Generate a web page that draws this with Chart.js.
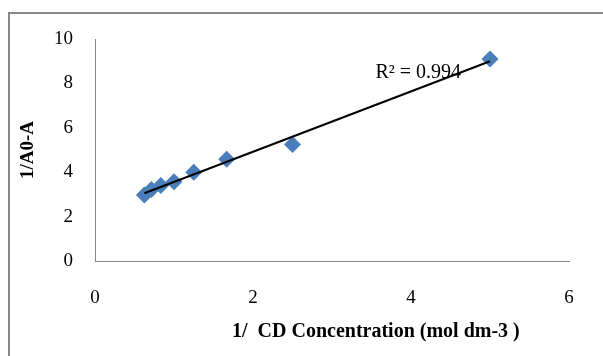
<!DOCTYPE html>
<html>
<head>
<meta charset="utf-8">
<script src="https://cdn.jsdelivr.net/npm/chart.js@4.4.0/dist/chart.umd.min.js"></script>
<style>
    html, body { margin: 0; padding: 0; background: #fff; overflow: hidden; }
    #wrap { position: relative; width: 603px; height: 356px; }
    #frame {
        position: absolute; left: 8px; top: 12px; width: 700px; height: 400px;
        border: 2px solid #878787; box-sizing: border-box;
    }
    canvas { position: absolute; left: 0; top: 0; }
</style>
</head>
<body>
<div id="wrap">
    <div id="frame"></div>
    <canvas id="chart" width="603" height="356"></canvas>
</div>
<script>
const xValues = [0.625, 0.714, 0.833, 1.0, 1.25, 1.667, 2.5, 5.0];
const yValues = [2.97, 3.22, 3.4, 3.57, 4.0, 4.58, 5.25, 9.1];
const xTicks = [0, 2, 4, 6];
const yTicks = [0, 2, 4, 6, 8, 10];
const X_TITLE = "1/  CD Concentration (mol dm-3 )";
const Y_TITLE = "1/A0-A";
const R2_LABEL = "R\u00b2 = 0.994";

// least squares trend line through the points
function linearFit(xs, ys) {
    const n = xs.length;
    const mx = xs.reduce((a, b) => a + b, 0) / n;
    const my = ys.reduce((a, b) => a + b, 0) / n;
    let sxy = 0, sxx = 0;
    xs.forEach((x, i) => {
        sxy += (x - mx) * (ys[i] - my);
        sxx += (x - mx) * (x - mx);
    });
    const slope = sxy / sxx;
    return { slope, intercept: my - slope * mx };
}

const fit = linearFit(xValues, yValues);
const xMin = Math.min(...xValues);
const xMax = Math.max(...xValues);
const trendPoints = [xMin, xMax].map((x) => ({ x, y: fit.intercept + fit.slope * x }));

const FONT = "'Liberation Serif', 'Times New Roman', serif";

// R² label and the two axis titles (Excel had the x title moved off-centre)
const labels = {
    id: "labels",
    afterDatasetsDraw(chart) {
        const { ctx, scales } = chart;
        ctx.save();
        ctx.fillStyle = "#000";
        ctx.textBaseline = "middle";

        ctx.font = `20px ${FONT}`;
        ctx.textAlign = "left";
        ctx.fillText(R2_LABEL, scales.x.getPixelForValue(3.55), scales.y.getPixelForValue(8.5));

        ctx.font = `bold 20px ${FONT}`;
        ctx.fillText(X_TITLE, 232, 332);

        ctx.translate(28, (chart.chartArea.top + chart.chartArea.bottom) / 2);
        ctx.rotate(-Math.PI / 2);
        ctx.textAlign = "center";
        ctx.font = `bold 19px ${FONT}`;
        ctx.fillText(Y_TITLE, 0, 0);
        ctx.restore();
    },
};

new Chart(document.getElementById("chart"), {
    type: "scatter",
    data: {
        datasets: [
            {
                label: "data",
                data: xValues.map((x, i) => ({ x, y: yValues[i] })),
                pointStyle: "rectRot",
                pointRadius: 8.5,
                pointHoverRadius: 8.5,
                backgroundColor: "#4a7ebb",
                borderWidth: 0,
                order: 2,
            },
            {
                label: "trend",
                type: "line",
                data: trendPoints,
                borderColor: "#000",
                borderWidth: 2,
                pointRadius: 0,
                fill: false,
                order: 1,
            },
        ],
    },
    options: {
        responsive: false,
        animation: false,
        events: [],
        layout: { padding: { left: 0, top: 39, right: 34, bottom: 0 } },
        plugins: { legend: { display: false }, tooltip: { enabled: false } },
        scales: {
            x: {
                type: "linear",
                min: 0,
                max: 6,
                afterBuildTicks: (axis) => { axis.ticks = xTicks.map((v) => ({ value: v })); },
                afterFit: (axis) => { axis.height = 95; },
                grid: { display: false, drawTicks: false },
                border: { color: "#878787", width: 1 },
                ticks: { color: "#000", padding: 26, font: { family: FONT, size: 19 } },
            },
            y: {
                type: "linear",
                min: 0,
                max: 10,
                afterBuildTicks: (axis) => { axis.ticks = yTicks.map((v) => ({ value: v })); },
                afterFit: (axis) => { axis.width = 95; },
                grid: { display: false, drawTicks: false },
                border: { color: "#878787", width: 1 },
                ticks: { color: "#000", padding: 22, font: { family: FONT, size: 19 } },
            },
        },
    },
    plugins: [labels],
});
</script>
</body>
</html>
